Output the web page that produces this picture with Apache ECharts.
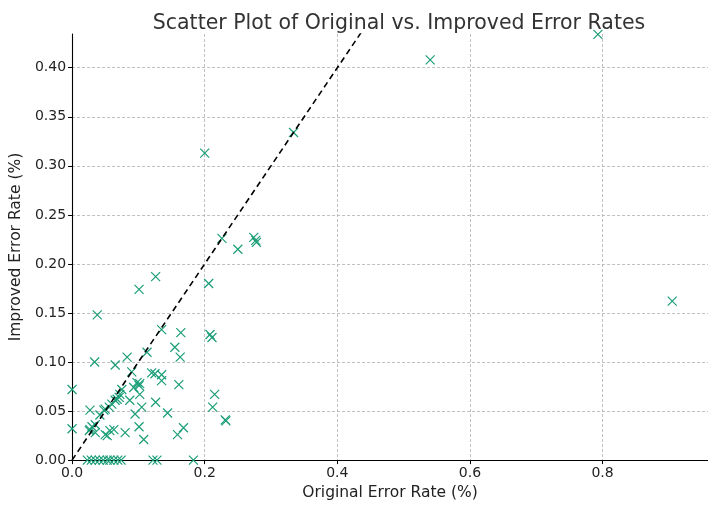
<!DOCTYPE html>
<html>
<head>
<meta charset="utf-8">
<script src="https://cdn.jsdelivr.net/npm/echarts@6/dist/echarts.min.js"></script>
<style>
  html, body { margin: 0; padding: 0; background: #fff; }
  #chart { width: 708px; height: 506px; }
</style>
</head>
<body>
<div id="chart"></div>
<script>
var originalRates = [
    0.540, 0.793, 0.905, 0.334, 0.200, 0.274, 0.278, 0.277, 0.250, 0.226,
    0.206, 0.126, 0.101, 0.038, 0.135, 0.164, 0.208, 0.211, 0.155, 0.163,
    0.113, 0.083, 0.065, 0.034, 0.000, 0.000, 0.090, 0.120, 0.125, 0.135,
    0.135, 0.161, 0.098, 0.102, 0.101, 0.093, 0.075, 0.072, 0.071, 0.068,
    0.065, 0.102, 0.087, 0.126, 0.105, 0.095, 0.144, 0.215, 0.212, 0.232,
    0.231, 0.060, 0.056, 0.050, 0.048, 0.027, 0.042, 0.035, 0.030, 0.027,
    0.026, 0.063, 0.057, 0.050, 0.053, 0.080, 0.101, 0.108, 0.159, 0.168,
    0.035, 0.023, 0.029, 0.035, 0.041, 0.047, 0.053, 0.057, 0.063, 0.069,
    0.074, 0.122, 0.128, 0.183
];
var improvedRates = [
    0.408, 0.434, 0.162, 0.334, 0.313, 0.227, 0.222, 0.224, 0.215, 0.226,
    0.180, 0.187, 0.174, 0.148, 0.133, 0.130, 0.128, 0.125, 0.115, 0.105,
    0.110, 0.105, 0.097, 0.100, 0.072, 0.032, 0.090, 0.089, 0.088, 0.087,
    0.081, 0.077, 0.079, 0.078, 0.076, 0.074, 0.072, 0.067, 0.064, 0.062,
    0.061, 0.067, 0.061, 0.059, 0.054, 0.047, 0.048, 0.067, 0.054, 0.040,
    0.041, 0.057, 0.054, 0.052, 0.051, 0.051, 0.046, 0.036, 0.034, 0.031,
    0.030, 0.031, 0.030, 0.026, 0.025, 0.028, 0.034, 0.021, 0.026, 0.033,
    0.028, 0.000, 0.000, 0.000, 0.000, 0.000, 0.000, 0.000, 0.000, 0.000,
    0.000, 0.000, 0.000, 0.000
];
var xTicks = [0.0, 0.2, 0.4, 0.6, 0.8];
var yTicks = [0.00, 0.05, 0.10, 0.15, 0.20, 0.25, 0.30, 0.35, 0.40];
var identityLine = [[0, 0], [0.5, 0.5]];

var points = originalRates.map(function (x, i) { return [x, improvedRates[i]]; });

var chartDom = document.getElementById('chart');
var myChart = echarts.init(chartDom);
var font = 'DejaVu Sans';

var option = {
    animation: false,
    backgroundColor: '#fff',
    title: {
        text: 'Scatter Plot of Original vs. Improved Error Rates',
        left: 394,
        top: 8,
        textAlign: 'center',
        textStyle: { fontFamily: font, fontSize: 20.5, fontWeight: 'normal', color: '#333' }
    },
    grid: { left: 70, right: 0, top: 34, bottom: 43 },
    xAxis: {
        type: 'value',
        min: 0,
        max: 0.959,
        interval: 0.2,
        name: 'Original Error Rate (%)',
        nameLocation: 'middle',
        nameGap: 24,
        nameTextStyle: { fontFamily: font, fontSize: 15.5, color: '#222' },
        axisLine: { show: true, onZero: false, lineStyle: { color: '#000', width: 1.1 } },
        axisTick: { show: true, length: 4, lineStyle: { color: '#000' }, customValues: xTicks },
        axisLabel: {
            fontFamily: font, fontSize: 14, color: '#222', margin: 6,
            customValues: xTicks,
            formatter: function (v) { return v.toFixed(1); }
        },
        splitLine: { show: true, lineStyle: { color: '#b0b0b0', type: [3, 2], width: 0.8 } }
    },
    yAxis: {
        type: 'value',
        min: 0,
        max: 0.4344,
        interval: 0.05,
        name: 'Improved Error Rate (%)',
        nameLocation: 'middle',
        nameGap: 44,
        nameTextStyle: { fontFamily: font, fontSize: 15.5, color: '#222' },
        axisLine: { show: true, onZero: false, lineStyle: { color: '#000', width: 1.1 } },
        axisTick: { show: true, length: 4, lineStyle: { color: '#000' }, customValues: yTicks },
        axisLabel: {
            fontFamily: font, fontSize: 14, color: '#222', margin: 6,
            customValues: yTicks,
            formatter: function (v) { return v.toFixed(2); }
        },
        splitLine: { show: true, lineStyle: { color: '#b0b0b0', type: [3, 2], width: 0.8 } }
    },
    series: [
        {
            type: 'scatter',
            data: points,
            symbol: 'path://M0,0L10,10M10,0L0,10',
            symbolSize: 9,
            clip: true,
            itemStyle: { color: 'rgba(0,0,0,0)', borderColor: '#1b9e77', borderWidth: 1.2, opacity: 1 },
            z: 3
        },
        {
            type: 'line',
            data: identityLine,
            symbol: 'none',
            clip: true,
            lineStyle: { color: '#000', width: 1.6, type: [6, 4] },
            z: 4
        }
    ]
};

if (option && typeof option === 'object') {
    myChart.setOption(option);
}
</script>
</body>
</html>
